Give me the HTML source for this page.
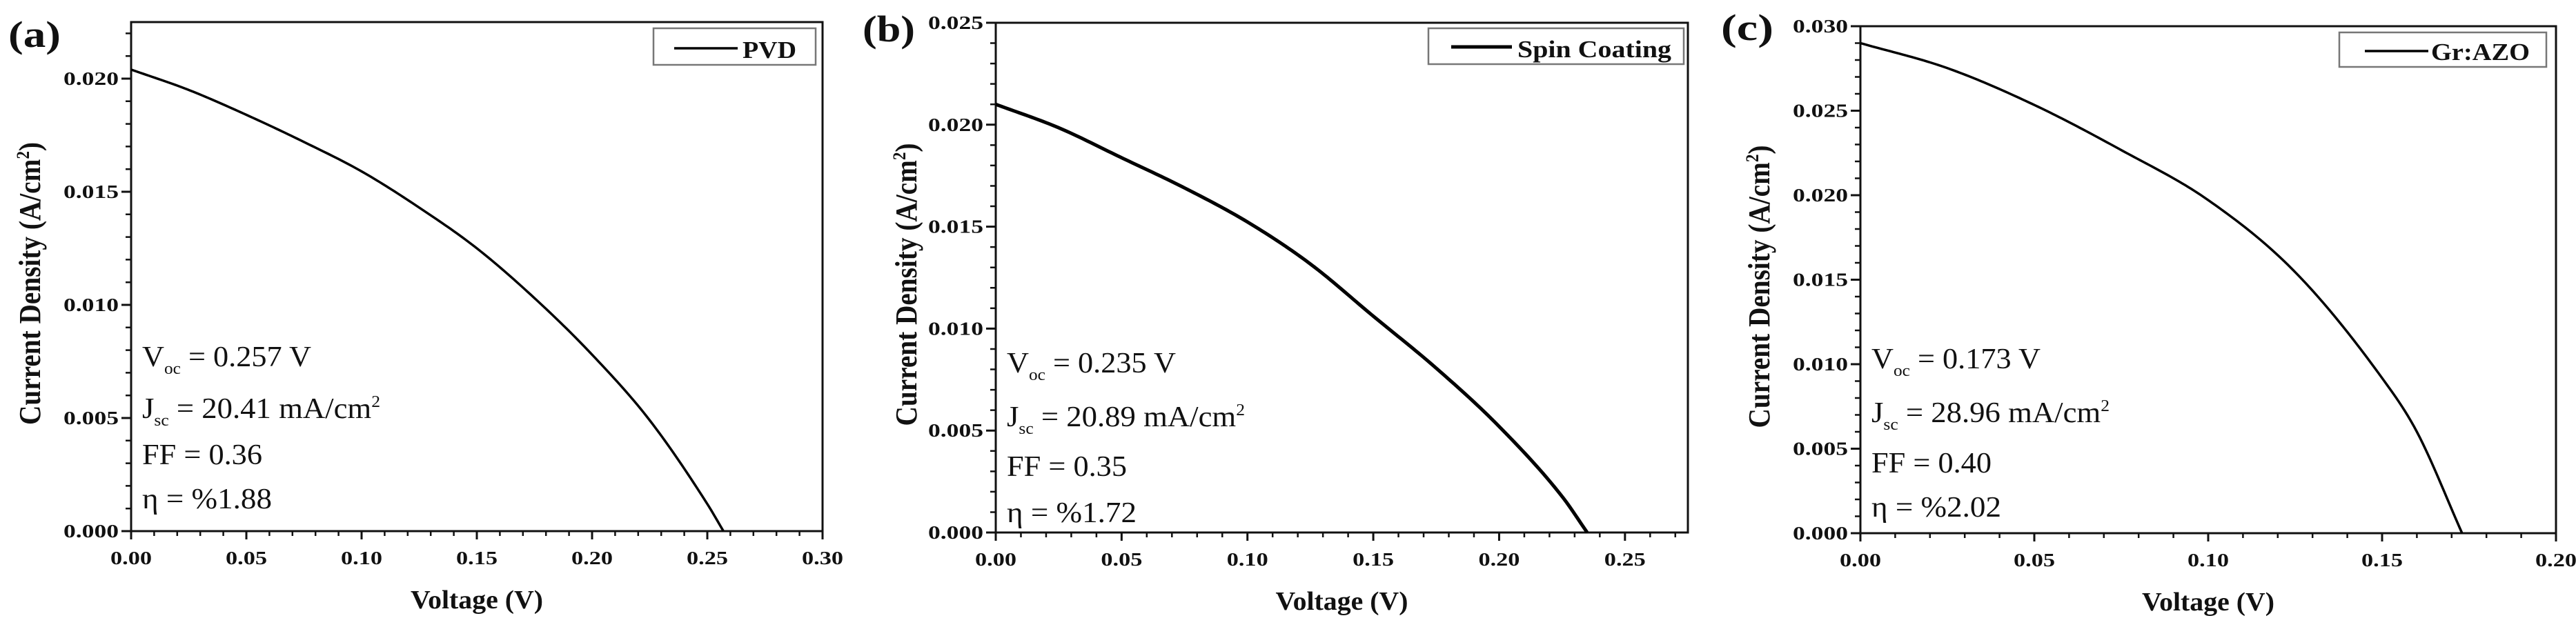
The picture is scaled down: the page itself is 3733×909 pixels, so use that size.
<!DOCTYPE html>
<html><head><meta charset="utf-8"><style>
html,body{margin:0;padding:0;background:#fff;overflow:hidden;}
svg{display:block;}
text{font-family:"Liberation Serif",serif;fill:#111;}
</style></head><body>
<svg id="fig" width="3733" height="909" viewBox="0 0 3733 909" xmlns="http://www.w3.org/2000/svg"></svg>
<script>
// Panel (a) PVD
const voltsA = [0,0.025,0.05,0.075,0.1,0.125,0.15,0.175,0.2,0.225,0.25,0.257];
const currA  = [0.0204,0.0195,0.0184,0.0172,0.0159,0.0143,0.0125,0.0103,0.0078,0.0049,0.0012,0];
const xTicksA = ["0.00","0.05","0.10","0.15","0.20","0.25","0.30"];
const yTicksA = ["0.000","0.005","0.010","0.015","0.020"];
// Panel (b) Spin Coating
const voltsB = [0,0.025,0.05,0.075,0.1,0.125,0.15,0.175,0.2,0.225,0.235];
const currB  = [0.0210,0.01985,0.01838,0.0169,0.01523,0.01317,0.01061,0.00806,0.0052,0.00177,0];
const xTicksB = ["0.00","0.05","0.10","0.15","0.20","0.25"];
const yTicksB = ["0.000","0.005","0.010","0.015","0.020","0.025"];
// Panel (c) Gr:AZO
const voltsC = [0,0.025,0.05,0.075,0.1,0.125,0.15,0.16,0.173];
const currC  = [0.0290,0.02752,0.02534,0.02267,0.01971,0.01545,0.00918,0.0060,0];
const xTicksC = ["0.00","0.05","0.10","0.15","0.20"];
const yTicksC = ["0.000","0.005","0.010","0.015","0.020","0.025","0.030"];

const NS="http://www.w3.org/2000/svg";
const svg=document.getElementById('fig');
function mk(tag,attrs,parent,txt){const e=document.createElementNS(NS,tag);for(const k in attrs)e.setAttribute(k,attrs[k]);if(txt!==undefined)e.textContent=txt;(parent||svg).appendChild(e);return e;}

// monotone cubic (Fritsch-Carlson) interpolation
function monotone(xs,ys){
  const n=xs.length,d=[],m=new Array(n);
  for(let i=0;i<n-1;i++)d.push((ys[i+1]-ys[i])/(xs[i+1]-xs[i]));
  m[0]=d[0];m[n-1]=d[n-2];
  for(let i=1;i<n-1;i++){m[i]=(d[i-1]*d[i]<=0)?0:(d[i-1]+d[i])/2;}
  for(let i=0;i<n-1;i++){if(d[i]===0){m[i]=m[i+1]=0;continue;}const a=m[i]/d[i],b=m[i+1]/d[i],s=a*a+b*b;if(s>9){const t=3/Math.sqrt(s);m[i]=t*a*d[i];m[i+1]=t*b*d[i];}}
  return function(x){let i=0;while(i<n-2&&x>xs[i+1])i++;const h=xs[i+1]-xs[i],t=(x-xs[i])/h,t2=t*t,t3=t2*t;
    return (2*t3-3*t2+1)*ys[i]+(t3-2*t2+t)*h*m[i]+(-2*t3+3*t2)*ys[i+1]+(t3-t2)*h*m[i+1];};
}

function panel(p){
  const g=mk('g',{});
  
  
  const L=p.L,R=p.R,T=p.T,B=p.B;
  const sx=v=>L+v/p.xmax*(R-L);
  const sy=v=>B-v/p.ymax*(B-T);
  let d='';
  for(let v=0;v<=p.xmax+1e-9;v+=0.01){const x=sx(v);d+=`M${x},${B}v7`;}
  for(let v=0;v<=p.ymax+1e-9;v+=0.001){const y=sy(v);d+=`M${L},${y}h-8`;}
  const mt=mk('path',{d:d,stroke:'#111','stroke-width':2.5,fill:'none'},g);
  
  
  let dm='';
  p.xt.forEach(s=>{const v=parseFloat(s),x=sx(v);dm+=`M${x},${B}v12`;
    const t=mk('text',{x:x,y:B+48,'text-anchor':'middle','font-size':27,'font-weight':'bold',textLength:60,lengthAdjust:'spacingAndGlyphs'},g,s);
    
    });
  p.yt.forEach(s=>{const v=parseFloat(s),y=sy(v);dm+=`M${L},${y}h-14`;
    const t=mk('text',{x:L-98,y:y+9,'font-size':27,'font-weight':'bold',textLength:80,lengthAdjust:'spacingAndGlyphs'},g,s);
    
    });
  const Mt=mk('path',{d:dm,stroke:'#111','stroke-width':3,fill:'none'},g);
  
  
  const fr=mk('rect',{x:L,y:T,width:R-L,height:B-T,fill:'none',stroke:'#111','stroke-width':3},g);
  
  
  const f=monotone(p.xs,p.ys);
  const x0=p.xs[0],x1=p.xs[p.xs.length-1],N=200;
  let cd='';
  for(let k=0;k<=N;k++){const v=x0+(x1-x0)*k/N;cd+=(k?'L':'M')+sx(v).toFixed(2)+','+sy(f(v)).toFixed(2);}
  const c=mk('path',{d:cd,stroke:'#000','stroke-width':p.lw,fill:'none','stroke-linejoin':'round'},g);
  
  
  const xt=mk('text',{x:(L+R)/2,y:B+112,'text-anchor':'middle','font-size':38,'font-weight':'bold',textLength:192,lengthAdjust:'spacingAndGlyphs'},g,'Voltage (V)');
  
  
  const cy=(T+B)/2+10;
  const yt=mk('text',{x:0,y:0,'text-anchor':'middle','font-size':44,'font-weight':'bold',transform:`translate(${p.ytx},${cy}) rotate(-90)`},g);
  
  
  yt.setAttribute('textLength',410);
  yt.setAttribute('lengthAdjust','spacingAndGlyphs');
  mk('tspan',{},yt,'Current Density (A/cm');
  mk('tspan',{'font-size':26,dy:-16},yt,'2');
  mk('tspan',{dy:16},yt,')');
  const pl=mk('text',{x:p.plx,y:p.ply,'font-size':54,'font-weight':'bold',textLength:76,lengthAdjust:'spacingAndGlyphs'},g,'('+p.id+')');
  
  
  const lg=mk('g',{},g);
  
  
  mk('rect',{x:p.lg[0],y:p.lg[1],width:p.lg[2],height:p.lg[3],fill:'#fff',stroke:'#777','stroke-width':2.5},lg);
  mk('line',{x1:p.ll[0],x2:p.ll[1],y1:p.ll[2],y2:p.ll[2],stroke:'#000','stroke-width':p.lw},lg);
  mk('text',{x:p.lt[0],y:p.lt[1],'font-size':35,'font-weight':'bold',textLength:p.lt[2],lengthAdjust:'spacingAndGlyphs'},lg,p.name);
  const an=mk('g',{},g);
  
  
  const ax=L+16;
  let t=mk('text',{x:ax,y:p.ab[0],'font-size':42,textLength:245,lengthAdjust:'spacingAndGlyphs'},an);
  mk('tspan',{},t,'V');mk('tspan',{'font-size':24,dy:11},t,'oc');mk('tspan',{dy:-11},t,' = '+p.voc+' V');
  t=mk('text',{x:ax,y:p.ab[1],'font-size':42,textLength:345,lengthAdjust:'spacingAndGlyphs'},an);
  mk('tspan',{},t,'J');mk('tspan',{'font-size':24,dy:11},t,'sc');mk('tspan',{dy:-11},t,' = '+p.jsc+' mA/cm');mk('tspan',{'font-size':24,dy:-16},t,'2');
  mk('text',{x:ax,y:p.ab[2],'font-size':42,textLength:174,lengthAdjust:'spacingAndGlyphs'},an,'FF = '+p.ff);
  mk('text',{x:ax,y:p.ab[3],'font-size':42,textLength:188,lengthAdjust:'spacingAndGlyphs'},an,'η = %'+p.eta);
}

panel({id:'a',L:190,R:1192,T:32,B:770,xmax:0.30,ymax:0.0225,xs:voltsA,ys:currA,xt:xTicksA,yt:yTicksA,lw:3.5,
  ytx:58,plx:12,ply:68,lg:[947,41,235,53],ll:[977,1069,70],lt:[1076,84,78],name:'PVD',
  ab:[531,606,673,737],voc:'0.257',jsc:'20.41',ff:'0.36',eta:'1.88'});
panel({id:'b',L:1443,R:2446,T:33,B:772,xmax:0.275,ymax:0.025,xs:voltsB,ys:currB,xt:xTicksB,yt:yTicksB,lw:5,
  ytx:1328,plx:1250,ply:60,lg:[2070,41,370,52],ll:[2103,2191,68],lt:[2199,83,223],name:'Spin Coating',
  ab:[540,618,690,757],voc:'0.235',jsc:'20.89',ff:'0.35',eta:'1.72'});
panel({id:'c',L:2696,R:3704,T:38,B:773,xmax:0.20,ymax:0.030,xs:voltsC,ys:currC,xt:xTicksC,yt:yTicksC,lw:3.5,
  ytx:2564,plx:2494,ply:58,lg:[3390,47,300,50],ll:[3427,3519,74],lt:[3523,87,143],name:'Gr:AZO',
  ab:[534,612,685,749],voc:'0.173',jsc:'28.96',ff:'0.40',eta:'2.02'});
</script>
</body></html>
